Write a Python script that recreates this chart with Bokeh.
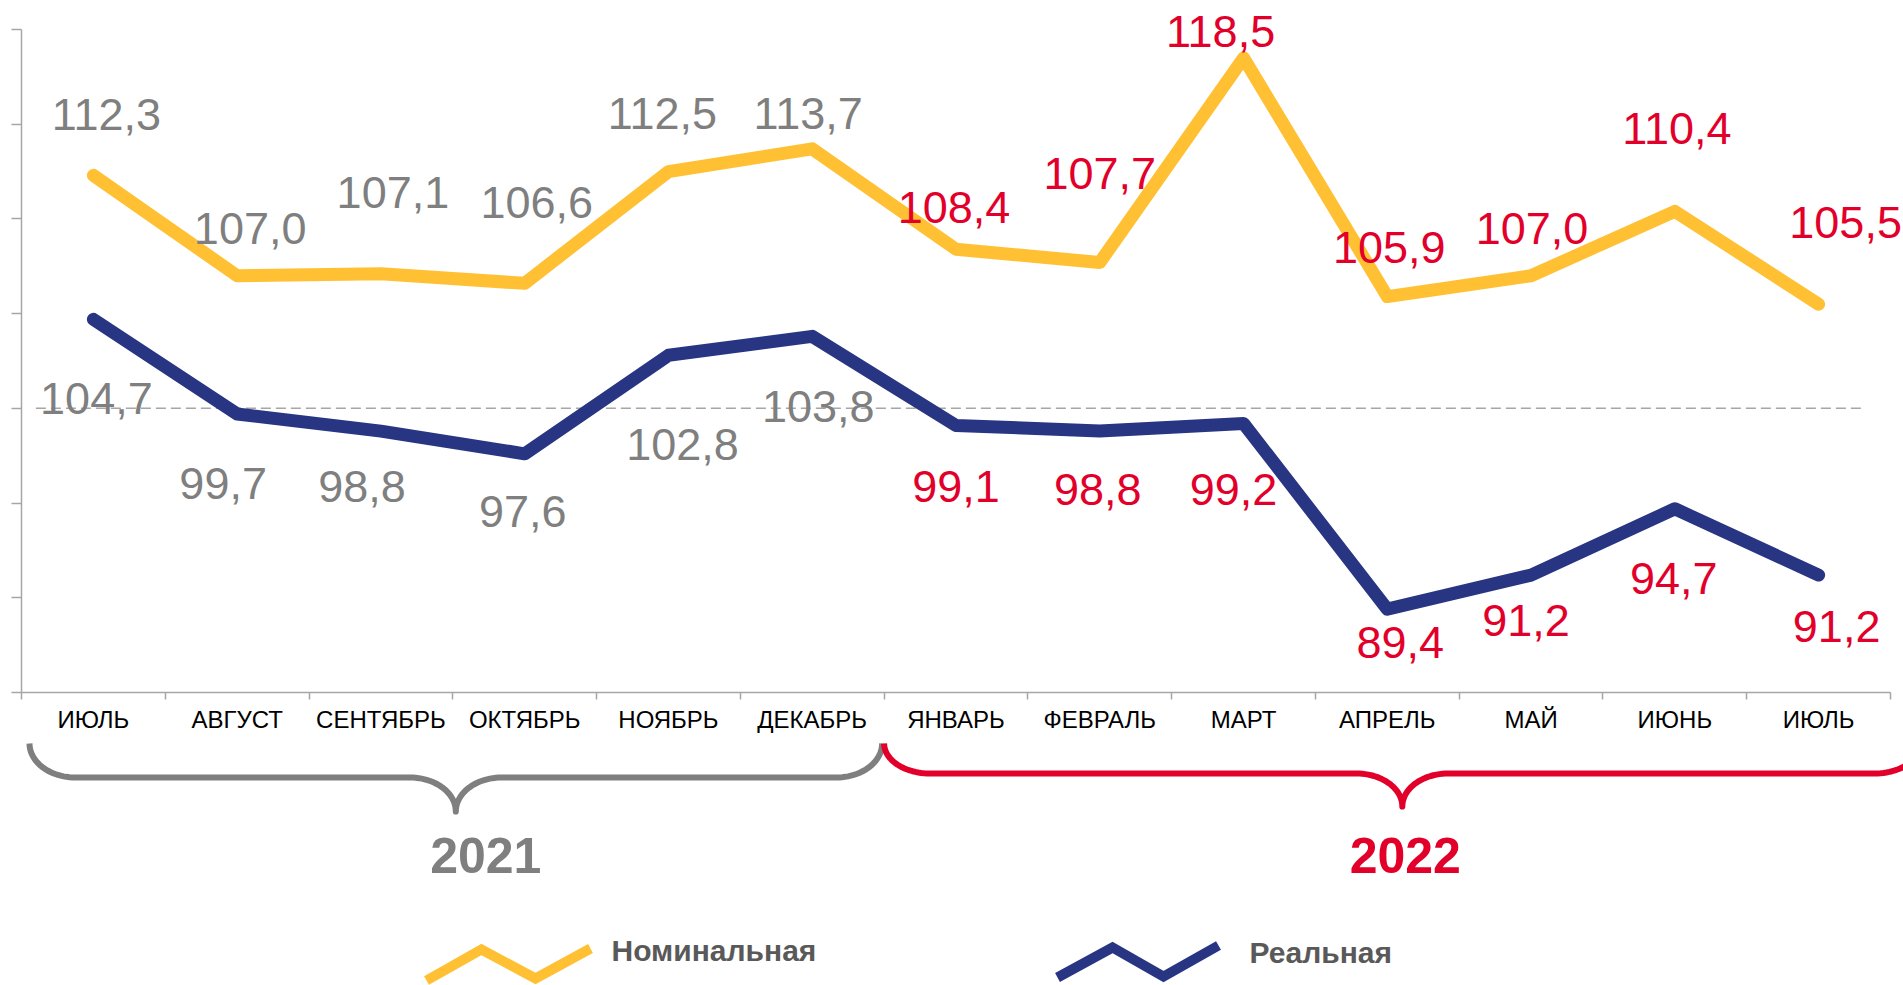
import math
from bokeh.plotting import figure
from bokeh.layouts import column
from bokeh.models import FixedTicker, Range1d, ColumnDataSource
from bokeh.core.properties import value
from bokeh.embed import file_html
from bokeh.resources import INLINE

# ---------------- data ----------------
months = ["ИЮЛЬ", "АВГУСТ", "СЕНТЯБРЬ", "ОКТЯБРЬ", "НОЯБРЬ", "ДЕКАБРЬ",
          "ЯНВАРЬ", "ФЕВРАЛЬ", "МАРТ", "АПРЕЛЬ", "МАЙ", "ИЮНЬ", "ИЮЛЬ"]
years = ["2021", "2022"]
year_month_counts = [6, 7]
nominal = [112.3, 107.0, 107.1, 106.6, 112.5, 113.7,
           108.4, 107.7, 118.5, 105.9, 107.0, 110.4, 105.5]
real = [104.7, 99.7, 98.8, 97.6, 102.8, 103.8,
        99.1, 98.8, 99.2, 89.4, 91.2, 94.7, 91.2]
series_names = ["Номинальная", "Реальная"]
y_ticks = [85, 90, 95, 100, 105, 110, 115, 120]
baseline = 100

# ---------------- style / layout ----------------
W, H_TOP, H_BOT = 1903, 740, 245
PLOT_L = 21
AXIS_Y = 692
UNIT_X = 143.77
UNIT_Y = 18.943
FONT = value("Liberation Sans")
YELLOW = "#FFC133"
NAVY = "#283582"
GREY_TXT = "#7F7F7F"
RED = "#E2002B"
AXIS_C = "#A6A6A6"
LEG_TXT = "#595959"

# pixel offsets of the value labels (manual placements, like in the original)
nom_dx = [13, 13, 12, 12, -6, -4, -2, 0, -23, 2, 1, 2, 27]
nom_dy = [-61, -47, -81, -81, -58, -35, -42, -89, -26, -49, -47, -83, -82]
real_dx = [3, -14, -19, -2, 14, 6, 0, -2, -10, 13, -5, -1, 18]
real_dy = [79, 69, 55, 58, 89, 70, 61, 58, 66, 33, 45, 70, 51]

n = len(months)
x = list(range(n))
first_year_n = year_month_counts[0]


def fmt(v):
    return f"{v:.1f}".replace(".", ",")


label_colors = [GREY_TXT if i < first_year_n else RED for i in x]

shared_x = Range1d(-0.5, -0.5 + (W - PLOT_L) / UNIT_X)

# ---------------- top chart ----------------
top = figure(width=W, height=H_TOP, output_backend="svg", toolbar_location=None,
             x_range=shared_x,
             y_range=Range1d(y_ticks[0], y_ticks[0] + AXIS_Y / UNIT_Y),
             min_border_left=PLOT_L, min_border_right=0, min_border_top=0,
             min_border_bottom=H_TOP - AXIS_Y)
top.grid.visible = False
top.outline_line_color = None
top.background_fill_color = "white"
top.border_fill_color = "white"

xa = top.xaxis[0]
xa.ticker = FixedTicker(ticks=x, minor_ticks=[i - 0.5 for i in range(n + 1)])
xa.major_label_overrides = {i: m for i, m in enumerate(months)}
xa.bounds = (-0.5, n - 0.5)
xa.major_tick_line_color = None
xa.major_tick_out = 0
xa.major_tick_in = 0
xa.minor_tick_line_color = AXIS_C
xa.minor_tick_line_width = 1.5
xa.minor_tick_out = 7
xa.minor_tick_in = 0
xa.axis_line_color = AXIS_C
xa.axis_line_width = 1.5
xa.major_label_text_font = "Liberation Sans"
xa.major_label_text_font_size = "24px"
xa.major_label_text_color = "#000000"
xa.major_label_standoff = 6

ya = top.yaxis[0]
ya.ticker = FixedTicker(ticks=y_ticks)
ya.bounds = (y_ticks[0], y_ticks[-1])
ya.major_label_overrides = {t: "" for t in y_ticks}
ya.major_label_standoff = 0
ya.major_tick_out = 10
ya.major_tick_in = 0
ya.major_tick_line_color = AXIS_C
ya.major_tick_line_width = 1.5
ya.minor_tick_line_color = None
ya.axis_line_color = AXIS_C
ya.axis_line_width = 1.5

# baseline 100 dashed
top.segment(x0=[-0.4], y0=[baseline], x1=[n - 0.7], y1=[baseline],
            line_color=AXIS_C, line_width=1.5, line_dash="10 5")

top.line(x, nominal, line_color=YELLOW, line_width=13,
         line_cap="round", line_join="round")
top.line(x, real, line_color=NAVY, line_width=13,
         line_cap="round", line_join="round")

lab_src = ColumnDataSource(dict(
    x=x + x,
    y=nominal + real,
    t=[fmt(v) for v in nominal] + [fmt(v) for v in real],
    c=label_colors + label_colors,
    dx=nom_dx + real_dx,
    dy=nom_dy + real_dy,
))
top.text(x="x", y="y", text="t", source=lab_src, text_color="c",
         x_offset="dx", y_offset="dy", text_align="center",
         text_baseline="middle", text_font=FONT, text_font_size="45px")

# ---------------- bottom: braces, years, legend ----------------
bot = figure(width=W, height=H_BOT, output_backend="svg", toolbar_location=None,
             x_range=shared_x, y_range=Range1d(H_TOP + H_BOT, H_TOP),
             x_axis_location=None, y_axis_location=None,
             min_border_left=PLOT_L, min_border_right=0,
             min_border_top=0, min_border_bottom=0)
bot.grid.visible = False
bot.outline_line_color = None
bot.background_fill_color = "white"
bot.border_fill_color = "white"


def px_to_x(px):
    """page pixel -> category axis units"""
    return (px - PLOT_L) / UNIT_X - 0.5


def bx(k):
    return PLOT_L + UNIT_X * k


def brace(xl, xr, ytop, yh, ytip, rx, steps=24):
    xm = (xl + xr) / 2
    h1 = yh - ytop
    h2 = ytip - yh
    xs, ys = [], []
    for s in range(steps + 1):
        t = s / steps * math.pi / 2
        xs.append(xl + rx - rx * math.cos(t)); ys.append(ytop + h1 * math.sin(t))
    for s in range(steps + 1):
        t = s / steps * math.pi / 2
        xs.append(xm - rx + rx * math.sin(t)); ys.append(ytip - h2 * math.cos(t))
    for s in range(steps + 1):
        t = s / steps * math.pi / 2
        xs.append(xm + rx - rx * math.cos(t)); ys.append(ytip - h2 * math.sin(t))
    for s in range(steps + 1):
        t = s / steps * math.pi / 2
        xs.append(xr - rx + rx * math.sin(t)); ys.append(ytop + h1 * math.cos(t))
    return [px_to_x(v) for v in xs], ys


grey_l, grey_r = bx(0) + 8, bx(first_year_n) - 2
red_l, red_r = bx(first_year_n), bx(n) + 30
gxs, gys = brace(grey_l, grey_r, 743, 777, 811, 46)
rxs, rys = brace(red_l, red_r, 743, 773, 806, 46)
bot.line(gxs, gys, line_color=GREY_TXT, line_width=6, line_join="round")
bot.line(rxs, rys, line_color=RED, line_width=6, line_join="round")

bot.text(x=[px_to_x((grey_l + grey_r) / 2 + 30), px_to_x((red_l + red_r) / 2 + 3)],
         y=[855, 855],
         text=years, text_color=[GREY_TXT, RED], text_align="center",
         text_baseline="middle", text_font=FONT, text_font_style="bold",
         text_font_size="50px")

# legend
bot.line([px_to_x(v) for v in [426, 481, 535, 590]], [980, 949, 978, 948],
         line_color=YELLOW, line_width=10, line_join="miter")
bot.line([px_to_x(v) for v in [1057, 1112, 1163, 1218]], [977, 947, 976, 945],
         line_color=NAVY, line_width=10, line_join="miter")
bot.text(x=[px_to_x(611), px_to_x(1249)], y=[950, 952], text=series_names,
         text_color=LEG_TXT, text_align="left", text_baseline="middle",
         text_font=FONT, text_font_style="bold", text_font_size="30px")

layout = column(top, bot, spacing=0)
open("out.html", "w").write(file_html(layout, INLINE))
